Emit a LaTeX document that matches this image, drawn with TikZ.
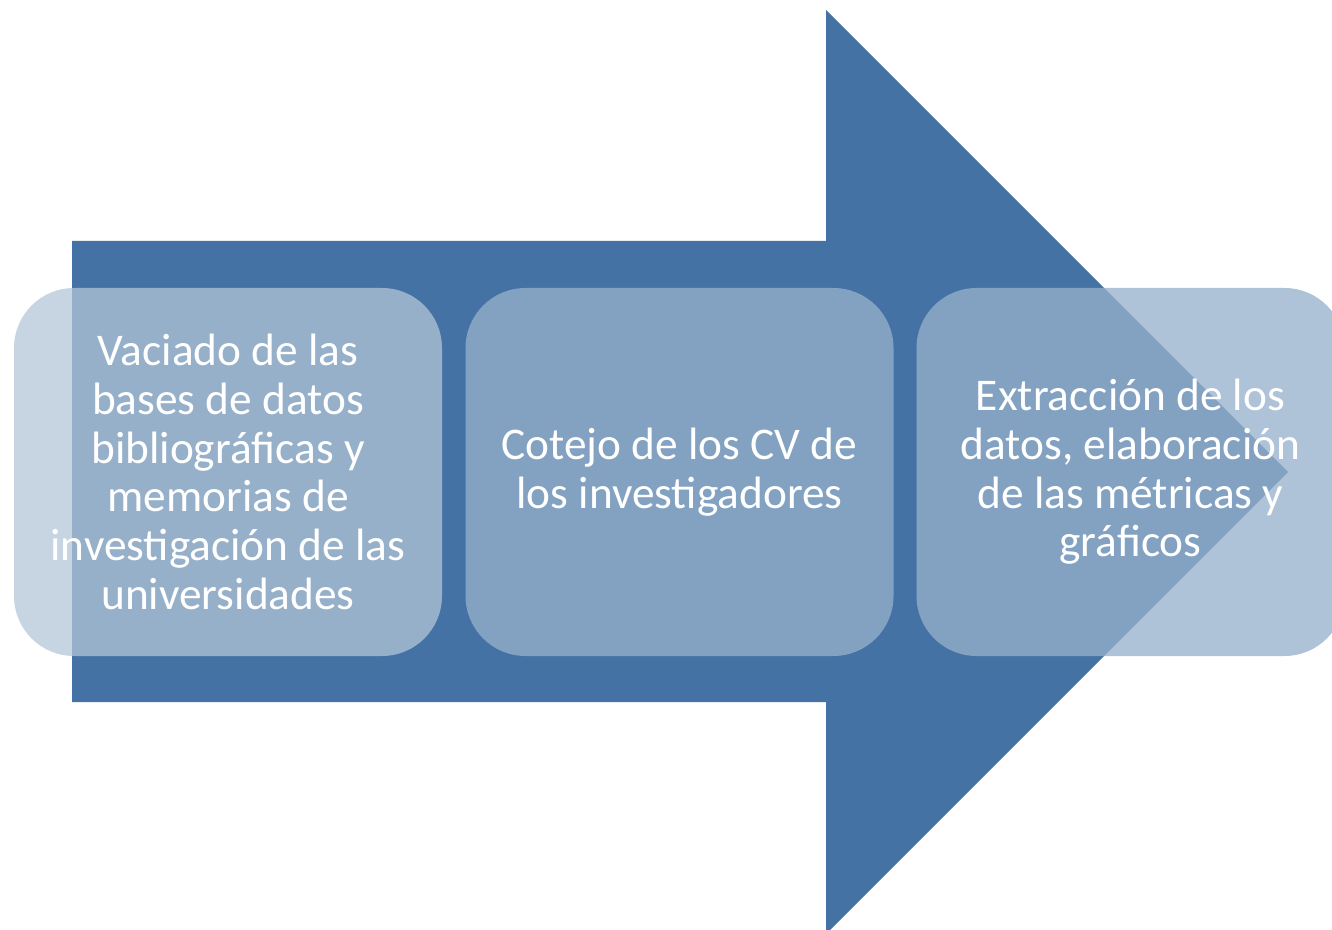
\documentclass[tikz,border=0pt]{standalone}
\usepackage{fontspec}
\setmainfont{Carlito}
\definecolor{arrowblue}{RGB}{68,114,164}
\definecolor{lightstage}{RGB}{180,197,216}
\definecolor{midstage}{RGB}{150,177,204}

\tikzstyle{stage}=[rounded corners=45pt, minimum width=321pt, minimum height=276pt, inner sep=0pt, align=center, text=white, font=\fontsize{34}{36.5}\selectfont]

\begin{document}
\begin{tikzpicture}[x=0.75pt, y=-0.75pt]
\path[use as bounding box, clip] (0,0) rectangle (1332,930);

\fill[arrowblue] (72,241) -- (826,241) -- (826,10) -- (1288,472) -- (826,934) -- (826,702) -- (72,702) -- cycle;

\node[stage, fill=lightstage, fill opacity=0.75, text opacity=1](s1) at (228,472) {Vaciado de las\\bases de datos\\bibliográficas y\\memorias de\\investigación de las\\universidades};
\node[stage, fill=midstage, fill opacity=0.77, text opacity=1](s2) at (679.5,472) {Cotejo de los CV de\\los investigadores};
\node[stage, fill=midstage, fill opacity=0.77, text opacity=1](s3) at (1130.5,472) {Extracción de los\\datos, elaboración\\de las métricas y\\gráficos};
\end{tikzpicture}
\end{document}
